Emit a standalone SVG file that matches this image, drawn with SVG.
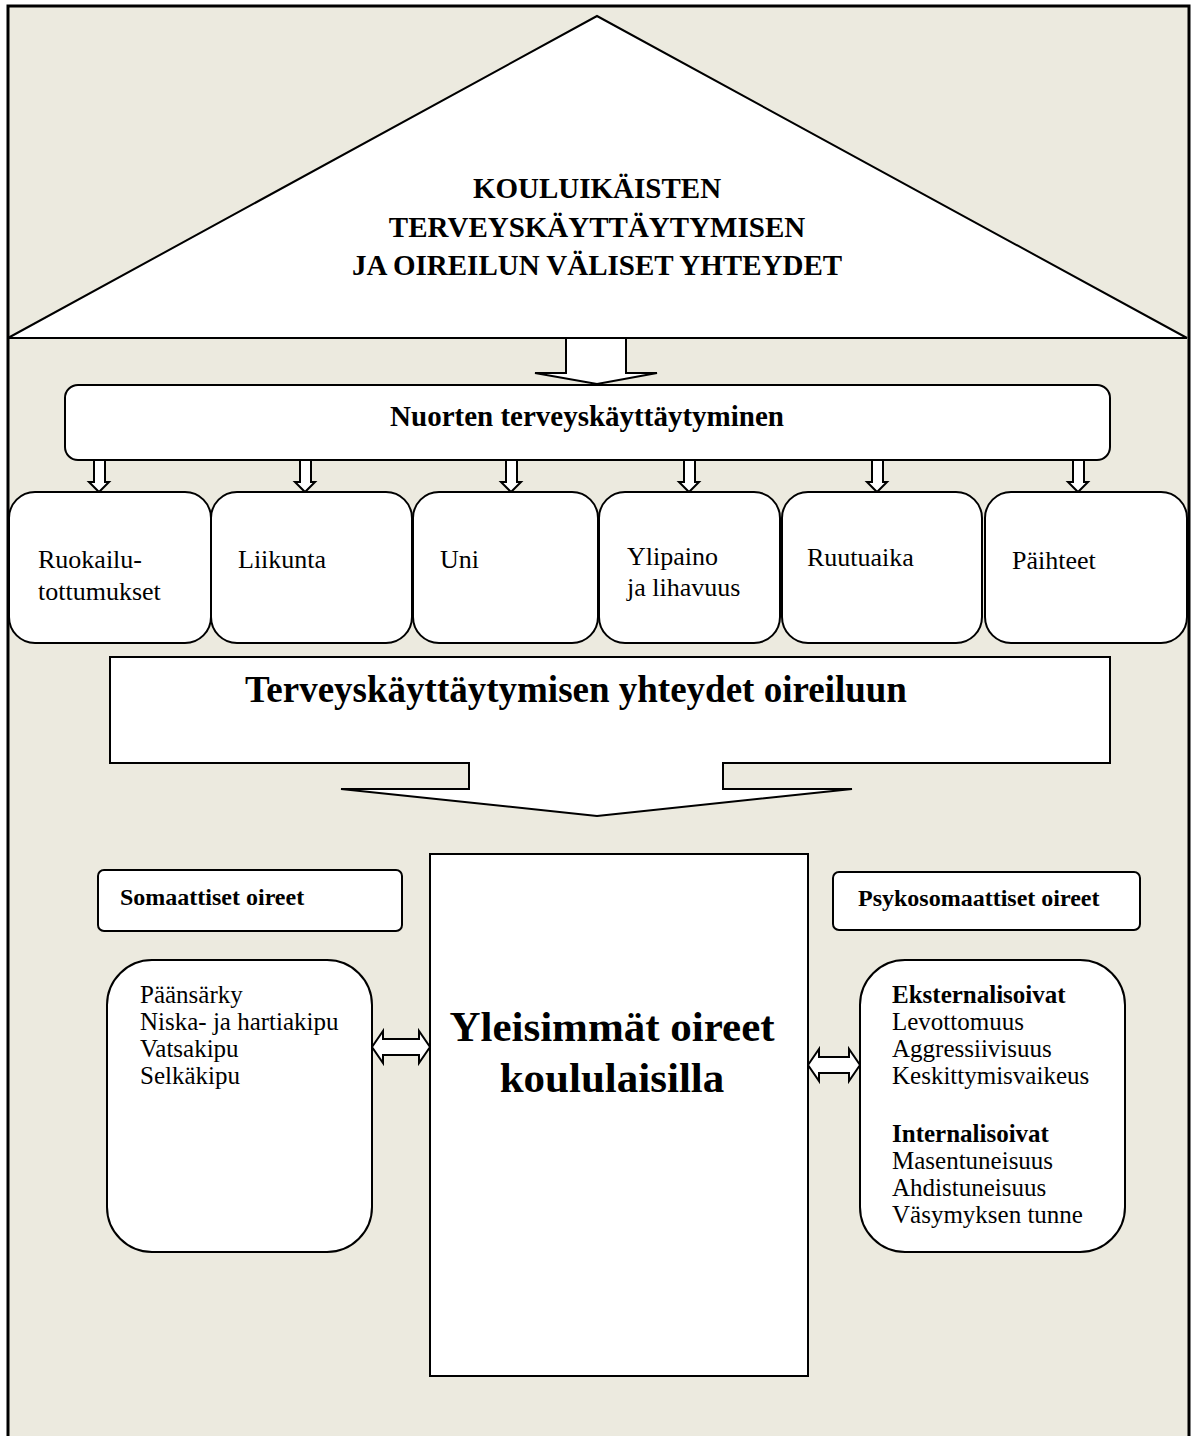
<svg xmlns="http://www.w3.org/2000/svg" width="1195" height="1436" viewBox="0 0 1195 1436">
<style>
.ln{fill:#fff;stroke:#000;stroke-width:2;stroke-linejoin:miter}
.t{font-family:"Liberation Serif","Times New Roman",serif;fill:#000}
.b{font-weight:bold}
.lbl{font-size:26px}
.lst{font-size:25px}
</style>
<rect x="0" y="0" width="1195" height="1436" fill="#fff"/>
<rect x="8" y="6" width="1181" height="1460" fill="#ECEADF" stroke="#000" stroke-width="3"/>
<g id="title">
<polygon class="ln" points="8,338 597,16 1187,338"/>
<text class="t b" font-size="29" text-anchor="middle" x="597" y="198">KOULUIKÄISTEN</text>
<text class="t b" font-size="29" text-anchor="middle" x="597" y="237">TERVEYSKÄYTTÄYTYMISEN</text>
<text class="t b" font-size="29" text-anchor="middle" x="597" y="275">JA OIREILUN VÄLISET YHTEYDET</text>
</g>
<g id="connectors">
<polygon class="ln" points="566,338 626,338 626,373 657,373 597,384 535,373 566,373"/>
<g id="small-arrows">
<polygon class="ln" points="94,460 105,460 105,482 109,482 99,492 89,482 94,482"/>
<polygon class="ln" points="300,460 311,460 311,482 315,482 305,492 295,482 300,482"/>
<polygon class="ln" points="506,460 517,460 517,482 521,482 511,492 501,482 506,482"/>
<polygon class="ln" points="684,460 695,460 695,482 699,482 689,492 679,482 684,482"/>
<polygon class="ln" points="872,460 883,460 883,482 887,482 877,492 867,482 872,482"/>
<polygon class="ln" points="1073,460 1084,460 1084,482 1088,482 1078,492 1068,482 1073,482"/>
</g>
<polygon class="ln" points="372,1047 383,1031 383,1039 419,1039 419,1031 430,1047 419,1063 419,1055 383,1055 383,1063"/>
<polygon class="ln" points="808,1065 819,1049 819,1057 849,1057 849,1049 860,1065 849,1081 849,1073 819,1073 819,1081"/>
</g>
<g id="nuorten">
<rect class="ln" x="65" y="385" width="1045" height="75" rx="13"/>
<text class="t b" font-size="29" text-anchor="middle" x="587" y="426">Nuorten terveyskäyttäytyminen</text>
</g>
<g id="ruokailu">
<rect class="ln" x="9" y="492" width="202" height="151" rx="26"/>
<text class="t lbl" x="38" y="568">Ruokailu-</text>
<text class="t lbl" x="38" y="600">tottumukset</text>
</g>
<g id="liikunta">
<rect class="ln" x="211" y="492" width="201" height="151" rx="26"/>
<text class="t lbl" x="238" y="568">Liikunta</text>
</g>
<g id="uni">
<rect class="ln" x="413" y="492" width="185" height="151" rx="26"/>
<text class="t lbl" x="440" y="568">Uni</text>
</g>
<g id="ylipaino">
<rect class="ln" x="599" y="492" width="181" height="151" rx="26"/>
<text class="t lbl" x="627" y="565">Ylipaino</text>
<text class="t lbl" x="627" y="596">ja lihavuus</text>
</g>
<g id="ruutuaika">
<rect class="ln" x="782" y="492" width="200" height="151" rx="26"/>
<text class="t lbl" x="807" y="566">Ruutuaika</text>
</g>
<g id="paihteet">
<rect class="ln" x="985" y="492" width="202" height="151" rx="26"/>
<text class="t lbl" x="1012" y="569">Päihteet</text>
</g>
<g id="yhteydet">
<polygon class="ln" points="110,657 1110,657 1110,763 723,763 723,789 852,789 597,816 341,789 469,789 469,763 110,763"/>
<text class="t b" font-size="37" text-anchor="middle" x="576" y="702">Terveyskäyttäytymisen yhteydet oireiluun</text>
</g>
<g id="somaattiset">
<rect class="ln" x="98" y="870" width="304" height="61" rx="6"/>
<text class="t b" font-size="24" x="120" y="905">Somaattiset oireet</text>
</g>
<g id="psykosomaattiset">
<rect class="ln" x="833" y="872" width="307" height="58" rx="6"/>
<text class="t b" font-size="24" x="858" y="906">Psykosomaattiset oireet</text>
</g>
<g id="yleisimmat">
<rect class="ln" x="430" y="854" width="378" height="522"/>
<text class="t b" font-size="43" text-anchor="middle" x="612" y="1041">Yleisimmät oireet</text>
<text class="t b" font-size="43" text-anchor="middle" x="612" y="1092">koululaisilla</text>
</g>
<g id="somaattiset-lista">
<rect class="ln" x="107" y="960" width="265" height="292" rx="45"/>
<text class="t lst" x="140" y="1003">Päänsärky</text>
<text class="t lst" x="140" y="1030">Niska- ja hartiakipu</text>
<text class="t lst" x="140" y="1057">Vatsakipu</text>
<text class="t lst" x="140" y="1084">Selkäkipu</text>
</g>
<g id="psykosomaattiset-lista">
<rect class="ln" x="860" y="960" width="265" height="292" rx="45"/>
<text class="t b lst" x="892" y="1003">Eksternalisoivat</text>
<text class="t lst" x="892" y="1030">Levottomuus</text>
<text class="t lst" x="892" y="1057">Aggressiivisuus</text>
<text class="t lst" x="892" y="1084">Keskittymisvaikeus</text>
<text class="t b lst" x="892" y="1142">Internalisoivat</text>
<text class="t lst" x="892" y="1169">Masentuneisuus</text>
<text class="t lst" x="892" y="1196">Ahdistuneisuus</text>
<text class="t lst" x="892" y="1223">Väsymyksen tunne</text>
</g>
</svg>
